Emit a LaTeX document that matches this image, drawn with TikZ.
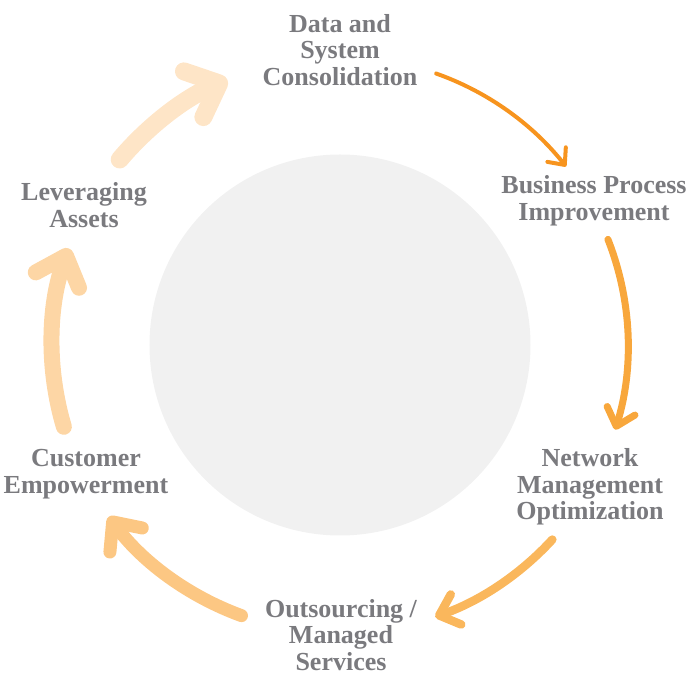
\documentclass[tikz,border=0pt]{standalone}
\usepackage{fontspec}
\setmainfont{Liberation Serif}
\usepackage{tikz}
\usetikzlibrary{arrows.meta}
\usepackage{xcolor}

\definecolor{stagegray}{RGB}{122,122,126}
\definecolor{hubgray}{RGB}{241,241,241}
\definecolor{orangeA}{RGB}{247,148,30}
\definecolor{orangeB}{RGB}{248,167,60}
\definecolor{orangeC}{RGB}{250,183,92}
\definecolor{orangeD}{RGB}{252,199,131}
\definecolor{orangeE}{RGB}{253,214,165}
\definecolor{orangeF}{RGB}{254,229,199}

\tikzstyle{stage} = [align=center, inner sep=0pt, text=stagegray, font=\fontsize{26}{26.5}\selectfont\bfseries]
\tikzstyle{cyclearrow} = [line cap=round, -{Straight Barb[round, length=9pt 1.04, width=16pt 1.87]}]

\begin{document}
\begin{tikzpicture}[x=1pt, y=1pt]
    \useasboundingbox (-340,-331) rectangle (348,345);

    % grey disc in the middle
    \node (hub) [circle, fill=hubgray, minimum size=381pt, inner sep=0pt] at (0,0) {};

    % the six stages round the disc
    \node (data) [stage] at (0,295) {Data and\\System\\Consolidation};
    \node (bpi) [stage] at (254,144) {Business Process\\Improvement};
    \node (net) [stage] at (250,-142) {Network\\Management\\Optimization};
    \node (outs) [stage] at (1,-290) {Outsourcing /\\Managed\\Services};
    \node (cust) [stage] at (-254,-129) {Customer\\Empowerment};
    \node (lev) [stage] at (-256,140) {Leveraging\\Assets};

    % arrow starts on a ring of radius 288
    \coordinate (s1) at (70.5:288);
    \coordinate (s2) at (21.5:288);
    \coordinate (s3) at (-42.5:288);
    \coordinate (s4) at (-110:288);
    \coordinate (s5) at (-163.5:288);
    \coordinate (s6) at (139.9:288);

    \draw [cyclearrow, orangeA, line width=4pt] (s1) arc[start angle=70.5, end angle=38.3, radius=288];
    \draw [cyclearrow, orangeB, line width=7pt] (s2) arc[start angle=21.5, end angle=-17.1, radius=288];
    \draw [cyclearrow, orangeC, line width=8.5pt] (s3) arc[start angle=-42.5, end angle=-70.7, radius=288];
    \draw [cyclearrow, orangeD, line width=13pt] (s4) arc[start angle=-110, end angle=-143.4, radius=288];
    \draw [cyclearrow, orangeE, line width=16pt] (s5) arc[start angle=-163.5, end angle=-199.6, radius=288];
    \draw [cyclearrow, orangeF, line width=18pt] (s6) arc[start angle=139.9, end angle=113, radius=288];
\end{tikzpicture}
\end{document}
